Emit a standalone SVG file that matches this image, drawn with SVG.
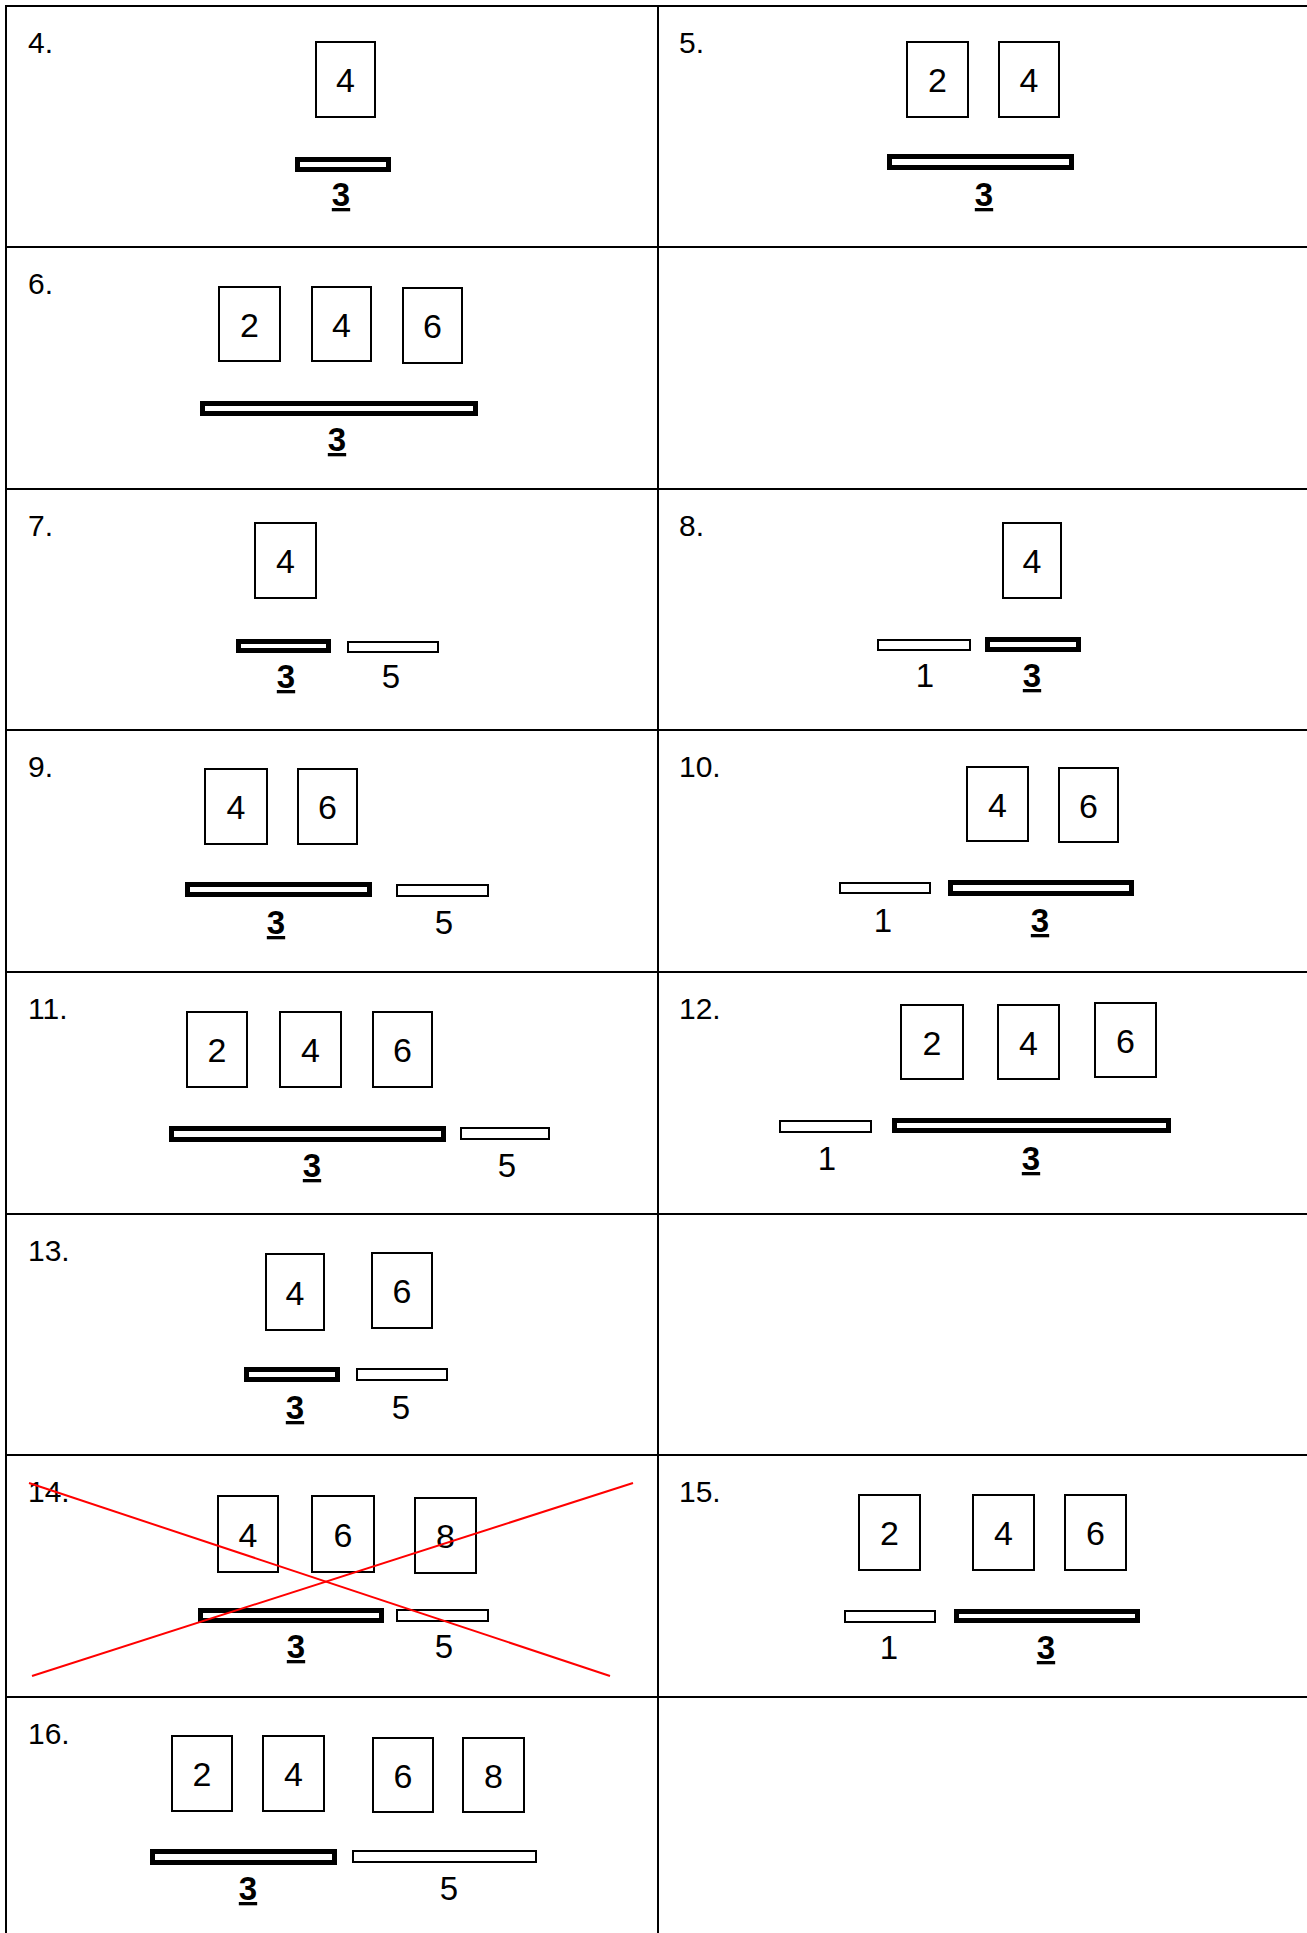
<svg xmlns="http://www.w3.org/2000/svg" width="1307" height="1933" viewBox="0 0 1307 1933">
<style>
.grid line{stroke:#000;stroke-width:2}
.card rect{fill:#fff;stroke:#000;stroke-width:2}
.num{font-family:"Liberation Sans",Arial,sans-serif;font-size:34px;text-anchor:middle;fill:#000}
.lab{font-family:"Liberation Sans",Arial,sans-serif;font-size:30px;fill:#000}
.bl{font-family:"Liberation Sans",Arial,sans-serif;font-size:33px;text-anchor:middle;fill:#000}
.bb{font-family:"Liberation Sans",Arial,sans-serif;font-size:33px;font-weight:bold;text-anchor:middle;fill:#000;text-decoration:underline;text-decoration-thickness:4px;text-underline-offset:2px}
.thick{fill:#fff;stroke:#000;stroke-width:5}
.thin{fill:#fff;stroke:#000;stroke-width:2}
.cross line{stroke:#f00;stroke-width:2}
</style>
<rect x="0" y="0" width="1307" height="1933" fill="#fff"/>
<g id="grid" class="grid">
<line x1="6" y1="5" x2="6" y2="1933"/>
<line x1="658" y1="5" x2="658" y2="1933"/>
<line x1="5" y1="6" x2="1307" y2="6"/>
<line x1="5" y1="247" x2="1307" y2="247"/>
<line x1="5" y1="489" x2="1307" y2="489"/>
<line x1="5" y1="730" x2="1307" y2="730"/>
<line x1="5" y1="972" x2="1307" y2="972"/>
<line x1="5" y1="1214" x2="1307" y2="1214"/>
<line x1="5" y1="1455" x2="1307" y2="1455"/>
<line x1="5" y1="1697" x2="1307" y2="1697"/>
</g>

<g id="p4">
<text class="lab" x="28" y="53">4.</text>
<g class="card" id="p4-c4"><rect x="316" y="42" width="59" height="75"/><text class="num" x="345.5" y="92">4</text></g>
<rect class="thick" x="297.5" y="159.5" width="91" height="10"/>
<text class="bb" x="341" y="206">3</text>
</g>

<g id="p5">
<text class="lab" x="679" y="53">5.</text>
<g class="card" id="p5-c2"><rect x="907" y="42" width="61" height="75"/><text class="num" x="937.5" y="92">2</text></g>
<g class="card" id="p5-c4"><rect x="999" y="42" width="60" height="75"/><text class="num" x="1029" y="92">4</text></g>
<rect class="thick" x="889.5" y="156.5" width="182" height="11"/>
<text class="bb" x="984" y="206">3</text>
</g>

<g id="p6">
<text class="lab" x="28" y="294">6.</text>
<g class="card" id="p6-c2"><rect x="219" y="287" width="61" height="74"/><text class="num" x="249.5" y="336.5">2</text></g>
<g class="card" id="p6-c4"><rect x="312" y="287" width="59" height="74"/><text class="num" x="341.5" y="336.5">4</text></g>
<g class="card" id="p6-c6"><rect x="403" y="288" width="59" height="75"/><text class="num" x="432.5" y="338">6</text></g>
<rect class="thick" x="202.5" y="403.5" width="273" height="10"/>
<text class="bb" x="337" y="451">3</text>
</g>

<g id="p7">
<text class="lab" x="28" y="536">7.</text>
<g class="card" id="p7-c4"><rect x="255" y="523" width="61" height="75"/><text class="num" x="285.5" y="573">4</text></g>
<rect class="thick" x="238.5" y="641.5" width="90" height="9"/>
<rect class="thin" x="348" y="642" width="90" height="10"/>
<text class="bb" x="286" y="688">3</text>
<text class="bl" x="391" y="688">5</text>
</g>

<g id="p8">
<text class="lab" x="679" y="536">8.</text>
<g class="card" id="p8-c4"><rect x="1003" y="523" width="58" height="75"/><text class="num" x="1032" y="573">4</text></g>
<rect class="thin" x="878" y="640" width="92" height="10"/>
<rect class="thick" x="987.5" y="639.5" width="91" height="10"/>
<text class="bl" x="925" y="687">1</text>
<text class="bb" x="1032" y="687">3</text>
</g>

<g id="p9">
<text class="lab" x="28" y="777">9.</text>
<g class="card" id="p9-c4"><rect x="205" y="769" width="62" height="75"/><text class="num" x="236" y="819">4</text></g>
<g class="card" id="p9-c6"><rect x="298" y="769" width="59" height="75"/><text class="num" x="327.5" y="819">6</text></g>
<rect class="thick" x="187.5" y="884.5" width="182" height="10"/>
<rect class="thin" x="397" y="885" width="91" height="11"/>
<text class="bb" x="276" y="934">3</text>
<text class="bl" x="444" y="934">5</text>
</g>

<g id="p10">
<text class="lab" x="679" y="777">10.</text>
<g class="card" id="p10-c4"><rect x="967" y="767" width="61" height="74"/><text class="num" x="997.5" y="816.5">4</text></g>
<g class="card" id="p10-c6"><rect x="1059" y="768" width="59" height="74"/><text class="num" x="1088.5" y="817.5">6</text></g>
<rect class="thin" x="840" y="883" width="90" height="10"/>
<rect class="thick" x="950.5" y="882.5" width="181" height="11"/>
<text class="bl" x="883" y="932">1</text>
<text class="bb" x="1040" y="932">3</text>
</g>

<g id="p11">
<text class="lab" x="28" y="1019">11.</text>
<g class="card" id="p11-c2"><rect x="187" y="1012" width="60" height="75"/><text class="num" x="217" y="1062">2</text></g>
<g class="card" id="p11-c4"><rect x="280" y="1012" width="61" height="75"/><text class="num" x="310.5" y="1062">4</text></g>
<g class="card" id="p11-c6"><rect x="373" y="1012" width="59" height="75"/><text class="num" x="402.5" y="1062">6</text></g>
<rect class="thick" x="171.5" y="1128.5" width="272" height="11"/>
<rect class="thin" x="461" y="1128" width="88" height="11"/>
<text class="bb" x="312" y="1177">3</text>
<text class="bl" x="507" y="1177">5</text>
</g>

<g id="p12">
<text class="lab" x="679" y="1019">12.</text>
<g class="card" id="p12-c2"><rect x="901" y="1005" width="62" height="74"/><text class="num" x="932" y="1054.5">2</text></g>
<g class="card" id="p12-c4"><rect x="998" y="1005" width="61" height="74"/><text class="num" x="1028.5" y="1054.5">4</text></g>
<g class="card" id="p12-c6"><rect x="1095" y="1003" width="61" height="74"/><text class="num" x="1125.5" y="1052.5">6</text></g>
<rect class="thin" x="780" y="1121" width="91" height="11"/>
<rect class="thick" x="894.5" y="1120.5" width="274" height="10"/>
<text class="bl" x="827" y="1170">1</text>
<text class="bb" x="1031" y="1170">3</text>
</g>

<g id="p13">
<text class="lab" x="28" y="1261">13.</text>
<g class="card" id="p13-c4"><rect x="266" y="1254" width="58" height="76"/><text class="num" x="295" y="1304.5">4</text></g>
<g class="card" id="p13-c6"><rect x="372" y="1253" width="60" height="75"/><text class="num" x="402" y="1303">6</text></g>
<rect class="thick" x="246.5" y="1369.5" width="91" height="10"/>
<rect class="thin" x="357" y="1369" width="90" height="11"/>
<text class="bb" x="295" y="1419">3</text>
<text class="bl" x="401" y="1419">5</text>
</g>

<g id="p14">
<text class="lab" x="28" y="1502">14.</text>
<g class="card" id="p14-c4"><rect x="218" y="1496" width="60" height="76"/><text class="num" x="248" y="1546.5">4</text></g>
<g class="card" id="p14-c6"><rect x="312" y="1496" width="62" height="76"/><text class="num" x="343" y="1546.5">6</text></g>
<g class="card" id="p14-c8"><rect x="415" y="1498" width="61" height="75"/><text class="num" x="445.5" y="1548">8</text></g>
<rect class="thick" x="200.5" y="1610.5" width="181" height="10"/>
<rect class="thin" x="397" y="1610" width="91" height="11"/>
<text class="bb" x="296" y="1658">3</text>
<text class="bl" x="444" y="1658">5</text>
<g id="p14-cross" class="cross">
<line x1="29" y1="1483" x2="610" y2="1676"/>
<line x1="32" y1="1676" x2="633" y2="1483"/>
</g>
</g>

<g id="p15">
<text class="lab" x="679" y="1502">15.</text>
<g class="card" id="p15-c2"><rect x="859" y="1495" width="61" height="75"/><text class="num" x="889.5" y="1545">2</text></g>
<g class="card" id="p15-c4"><rect x="973" y="1495" width="61" height="75"/><text class="num" x="1003.5" y="1545">4</text></g>
<g class="card" id="p15-c6"><rect x="1065" y="1495" width="61" height="75"/><text class="num" x="1095.5" y="1545">6</text></g>
<rect class="thin" x="845" y="1611" width="90" height="11"/>
<rect class="thick" x="956.5" y="1611.5" width="181" height="9"/>
<text class="bl" x="889" y="1659">1</text>
<text class="bb" x="1046" y="1659">3</text>
</g>

<g id="p16">
<text class="lab" x="28" y="1744">16.</text>
<g class="card" id="p16-c2"><rect x="172" y="1736" width="60" height="75"/><text class="num" x="202" y="1786">2</text></g>
<g class="card" id="p16-c4"><rect x="263" y="1736" width="61" height="75"/><text class="num" x="293.5" y="1786">4</text></g>
<g class="card" id="p16-c6"><rect x="373" y="1738" width="60" height="74"/><text class="num" x="403" y="1787.5">6</text></g>
<g class="card" id="p16-c8"><rect x="463" y="1738" width="61" height="74"/><text class="num" x="493.5" y="1787.5">8</text></g>
<rect class="thick" x="152.5" y="1851.5" width="182" height="11"/>
<rect class="thin" x="353" y="1851" width="183" height="11"/>
<text class="bb" x="248" y="1900">3</text>
<text class="bl" x="449" y="1900">5</text>
</g>
</svg>
